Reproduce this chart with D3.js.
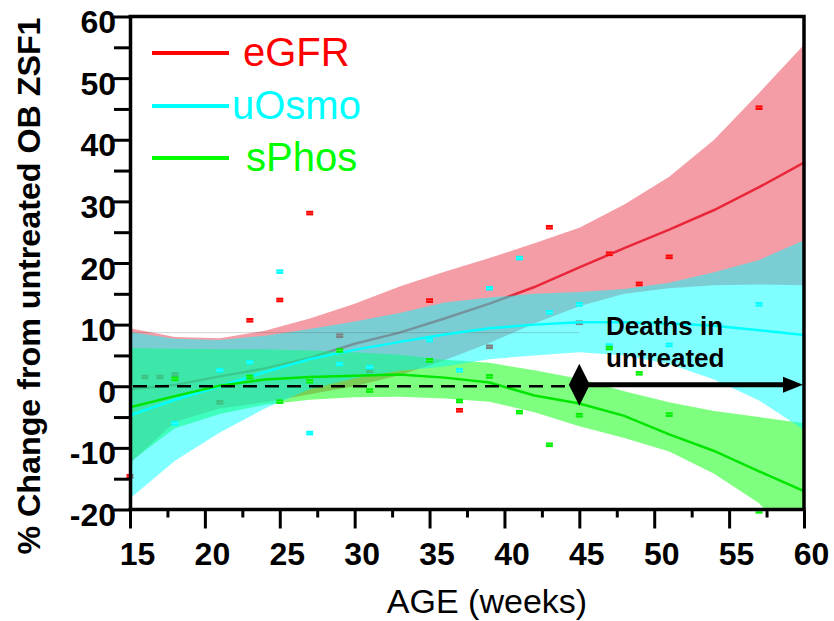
<!DOCTYPE html>
<html>
<head>
<meta charset="utf-8">
<script src="https://cdn.jsdelivr.net/npm/d3@7"></script>
<style>
body{margin:0;background:#fff;}
text{font-family:"Liberation Sans",Arial,Helvetica,sans-serif;}
</style>
</head>
<body>
<svg id="chart" width="834" height="621"></svg>
<script>
const WIDTH=834, HEIGHT=621;
const PLOT={left:130,right:804,top:16.5,bottom:509.5};

// fitted curves + confidence bands (every 3 weeks)
const fitWeeks=[15,18,21,24,27,30,33,36,39,42,45,48,51,54,57,60];
const egfrFit=[-0.5,0.2,1.6,2.9,4.6,6.9,8.7,11.0,13.4,16.1,19.3,22.4,25.4,28.6,32.3,36.3];
const egfrHi =[9.4,8.0,7.8,9.0,11.0,13.4,16.2,18.6,20.8,23.2,25.7,29.5,34.0,40.0,47.6,55.4];
const egfrLo =[-12.5,-5.8,-3.6,-2.6,-1.3,0.0,1.8,4.2,7.0,10.2,13.0,15.0,15.9,16.4,16.5,16.4];
const uosmoFit=[-4.7,-2.2,0.0,2.3,4.4,5.9,7.2,8.4,9.4,10.0,10.4,10.4,10.2,9.8,9.1,8.3];
const uosmoHi =[8.8,7.7,7.5,8.2,9.3,10.5,11.9,13.6,14.4,15.0,15.3,15.8,16.8,18.5,20.5,23.7];
const uosmoLo =[-18.2,-12.1,-7.5,-3.6,-0.5,1.3,2.5,3.2,4.4,5.0,5.5,5.0,3.6,1.1,-2.3,-7.1];
const sphosFit=[-3.4,-1.6,0.1,1.1,1.5,1.7,1.9,1.4,0.6,-1.5,-2.8,-4.8,-7.8,-10.5,-13.8,-17.0];
const sphosHi =[6.2,6.1,6.0,6.0,5.8,5.5,5.1,4.3,3.8,2.6,1.2,-0.8,-2.6,-4.0,-5.0,-6.0];
const sphosLo =[-12.3,-6.8,-4.5,-3.0,-2.2,-1.8,-1.7,-2.0,-2.5,-4.2,-6.5,-8.4,-10.6,-14.2,-19.0,-27.0];

// measured points
const egfrWeeks=[15,16,17,18,21,23,25,27,29,31,35,37,39,43,45,47,49,51,57];
const egfrVals =[-14.6,1.5,1.5,1.9,-2.6,10.7,14.0,28.1,8.2,2.5,13.9,-3.9,6.4,25.8,10.3,21.5,16.6,21.0,45.2];
const uosmoWeeks=[18,21,23,25,27,29,31,35,37,39,41,43,45,47,51,57];
const uosmoVals =[-6.0,2.6,3.9,18.6,-7.6,3.6,3.1,7.5,2.6,15.9,20.8,12.0,13.3,6.6,6.7,13.3];
const sphosWeeks=[18,23,25,27,29,31,35,37,39,41,43,45,47,49,51,57];
const sphosVals =[1.2,1.5,-2.5,0.8,5.8,-0.7,4.2,-2.4,1.6,-4.2,-9.5,-4.7,6.2,2.1,-4.6,-20.3];

const xTicks=[15,20,25,30,35,40,45,50,55,60];
const yTicks=[-20,-10,0,10,20,30,40,50,60];
const seriesNames=["eGFR","uOsmo","sPhos"];
const seriesColors=["#ff0000","#00ffff","#00ff00"];
const deathWeek=45, endWeek=60;
const guideLevel=8.7;

const x=d3.scaleLinear().domain([15,60]).range([PLOT.left,PLOT.right]);
const y=d3.scaleLinear().domain([-20,60]).range([PLOT.bottom,PLOT.top]);

const svg=d3.select("#chart");

svg.append("defs").append("clipPath").attr("id","plotclip")
  .append("rect")
  .attr("x",PLOT.left).attr("y",PLOT.top)
  .attr("width",PLOT.right-PLOT.left).attr("height",PLOT.bottom-PLOT.top);

const plot=svg.append("g");

function band(lo,hi,color){
  plot.append("path")
    .attr("clip-path","url(#plotclip)")
    .attr("d",d3.area()
      .x((d,i)=>x(fitWeeks[i]))
      .y0((d,i)=>y(lo[i]))
      .y1((d,i)=>y(hi[i]))(fitWeeks))
    .attr("fill",color).attr("fill-opacity",0.5);
}
function fit(vals,color){
  plot.append("path")
    .attr("clip-path","url(#plotclip)")
    .attr("d",d3.line().x((d,i)=>x(fitWeeks[i])).y(d=>y(d))(vals))
    .attr("fill","none").attr("stroke",color).attr("stroke-width",2.5);
}
function points(weeks,vals,color){
  const p=plot.append("g").selectAll("g").data(weeks).enter().append("g")
    .attr("transform",(d,i)=>`translate(${x(d)},${y(vals[i])})`);
  p.append("rect").attr("x",-3.5).attr("y",-2.3).attr("width",7).attr("height",4.6).attr("fill",color);
  p.append("rect").attr("x",-3.5).attr("y",-0.4).attr("width",7).attr("height",0.8).attr("fill","#fff").attr("opacity",0.3);
}

// eGFR sits under the other two bands
band(egfrLo,egfrHi,"#eb3b4d");
fit(egfrFit,"#e8283a");
points(egfrWeeks,egfrVals,"#ff0000");

band(sphosLo,sphosHi,"#00ff00");
band(uosmoLo,uosmoHi,"#00ffff");

plot.append("line")
  .attr("x1",x(15)).attr("x2",x(deathWeek)).attr("y1",y(guideLevel)).attr("y2",y(guideLevel))
  .attr("stroke","#555").attr("stroke-opacity",0.25).attr("stroke-width",1);

fit(uosmoFit,"#00ffff");
points(uosmoWeeks,uosmoVals,"#00ffff");

fit(sphosFit,"#00e600");
points(sphosWeeks,sphosVals,"#00f000");

// zero reference line up to deaths marker
const y0=y(0);
plot.append("line")
  .attr("x1",x(15)+3).attr("x2",x(deathWeek)-10).attr("y1",y0).attr("y2",y0)
  .attr("stroke","#000").attr("stroke-width",2.5).attr("stroke-dasharray","14,8");

// deaths marker + arrow
const dx0=x(deathWeek);
plot.append("path")
  .attr("d",`M${dx0-10.5},${y0-1.5}L${dx0},${y0-22.5}L${dx0+10.5},${y0-1.5}L${dx0},${y0+19.5}Z`)
  .attr("fill","#000");
plot.append("line")
  .attr("x1",dx0+8).attr("x2",x(endWeek)-18).attr("y1",y0-1.5).attr("y2",y0-1.5)
  .attr("stroke","#000").attr("stroke-width",5);
plot.append("path")
  .attr("d",`M${x(endWeek)-21},${y0-9.5}L${x(endWeek)-1},${y0-1.5}L${x(endWeek)-21},${y0+6.5}Z`)
  .attr("fill","#000");

plot.append("text").attr("x",606).attr("y",335).attr("font-size",26).attr("font-weight","bold").text("Deaths in");
plot.append("text").attr("x",606).attr("y",367).attr("font-size",26).attr("font-weight","bold").text("untreated");

// axes
const yAxis=d3.axisLeft(y).tickValues(d3.range(-20,61,5)).tickSize(16).tickSizeOuter(0).tickPadding(-2)
  .tickFormat(d=>yTicks.includes(d)?String(d):"");
const gy=svg.append("g").attr("transform",`translate(${PLOT.left},0)`).call(yAxis);
gy.selectAll("line").attr("stroke","#000").attr("stroke-width",3);
gy.select(".domain").attr("stroke","#000").attr("stroke-width",3.5);
gy.selectAll("text").attr("font-size",32).attr("font-weight","bold").attr("fill","#000").attr("dy","0.5em");

const xMinor=d3.axisBottom(x).tickValues(d3.range(17.5,60,5)).tickSize(8).tickSizeOuter(0).tickFormat("");
const gxm=svg.append("g").attr("transform",`translate(0,${PLOT.bottom})`).call(xMinor);
gxm.selectAll("line").attr("stroke","#000").attr("stroke-width",3);
gxm.select(".domain").remove();

const xAxis=d3.axisBottom(x).tickValues(xTicks).tickSize(19).tickSizeOuter(0).tickPadding(14).tickFormat(d=>String(d));
const gx=svg.append("g").attr("transform",`translate(0,${PLOT.bottom})`).call(xAxis);
gx.selectAll("line").attr("stroke","#000").attr("stroke-width",3);
gx.select(".domain").attr("stroke","#000").attr("stroke-width",3.5).attr("d",`M${PLOT.left-1.5},0H${PLOT.right+1.5}`);
gx.selectAll("text").attr("font-size",32).attr("font-weight","bold").attr("fill","#000").attr("dx",7);

// frame top & right
svg.append("path")
  .attr("d",`M${PLOT.left-1.5},${PLOT.top}H${PLOT.right}V${PLOT.bottom}`)
  .attr("fill","none").attr("stroke","#000").attr("stroke-width",3.5);

// titles
svg.append("text").attr("x",487).attr("y",613).attr("text-anchor","middle")
  .attr("font-size",34).attr("fill","#000").text("AGE (weeks)");
svg.append("text").attr("transform","translate(40,286) rotate(-90)").attr("text-anchor","middle")
  .attr("font-size",32).attr("font-weight","bold").attr("fill","#000")
  .attr("textLength",537).attr("lengthAdjust","spacingAndGlyphs")
  .text("% Change from untreated OB ZSF1");

// legend
const legendRows=[{y:53,tx:243},{y:106,tx:232},{y:158,tx:246}];
const lg=svg.append("g");
seriesNames.forEach((name,i)=>{
  lg.append("line").attr("x1",152).attr("x2",229).attr("y1",legendRows[i].y).attr("y2",legendRows[i].y)
    .attr("stroke",seriesColors[i]).attr("stroke-width",4);
  lg.append("text").attr("x",legendRows[i].tx).attr("y",legendRows[i].y+13)
    .attr("font-size",40).attr("fill",seriesColors[i]).text(name);
});
</script>
</body>
</html>
